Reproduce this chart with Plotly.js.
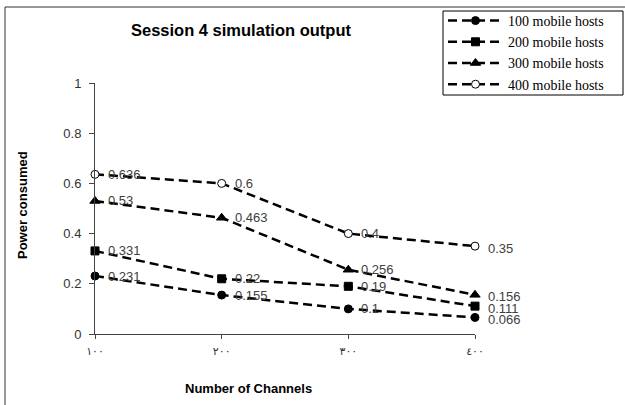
<!DOCTYPE html>
<html>
<head>
<meta charset="utf-8">
<script src="https://cdn.plot.ly/plotly-3.0.1.min.js"></script>
<style>
  html, body { margin: 0; padding: 0; background: #fff; }
  #chart { width: 625px; height: 405px; }
</style>
</head>
<body>
<div id="chart"></div>
<script>
// Number of channels (category axis, Arabic-Indic tick labels)
const channels = ['100', '200', '300', '400'];
const channelLabels = ['١٠٠', '٢٠٠', '٣٠٠', '٤٠٠'];

// Power consumed per host count
const seriesNames = ['100 mobile hosts', '200 mobile hosts', '300 mobile hosts', '400 mobile hosts'];
const hosts100 = [0.231, 0.155, 0.1, 0.066];
const hosts200 = [0.331, 0.22, 0.19, 0.111];
const hosts300 = [0.53, 0.463, 0.256, 0.156];
const hosts400 = [0.636, 0.6, 0.4, 0.35];

const seriesValues = [hosts100, hosts200, hosts300, hosts400];
const markerStyles = [
  { symbol: 'circle', size: 8, color: '#000', line: { color: '#000', width: 1 } },
  { symbol: 'square', size: 8, color: '#000', line: { color: '#000', width: 1 } },
  { symbol: 'triangle-up', size: 9, color: '#000', line: { color: '#000', width: 1 } },
  { symbol: 'circle', size: 8, color: '#fff', line: { color: '#000', width: 1 } }
];

const W = 625, H = 405;
const M = { l: 95, r: 150, t: 83, b: 71 };
const PW = W - M.l - M.r, PH = H - M.t - M.b;
const px = x => (x - M.l) / PW;          // pixel -> paper x
const py = y => 1 - (y - M.t) / PH;       // pixel -> paper y

const traces = seriesValues.map((vals, i) => ({
  type: 'scatter',
  mode: 'lines+markers',
  name: seriesNames[i],
  x: channels,
  y: vals,
  line: { color: '#000', width: 2.5, dash: '9px,5px' },
  marker: markerStyles[i],
  cliponaxis: false
}));

const sans = 'Arial, Liberation Sans, sans-serif';

// Value labels beside each point (category axis: x given as category index)
const annotations = [];
seriesValues.forEach(vals => {
  vals.forEach((v, j) => {
    annotations.push({
      x: j, y: v, xref: 'x', yref: 'y',
      text: String(v), showarrow: false,
      xanchor: 'left', yanchor: 'middle',
      xshift: 12, yshift: j === channels.length - 1 ? -2 : 0,
      borderpad: 0,
      font: { family: sans, size: 13, color: '#404040' }
    });
  });
});

// Axis titles
annotations.push({
  xref: 'paper', yref: 'paper', x: px(248), y: py(388),
  text: 'Number of Channels', showarrow: false,
  xanchor: 'center', yanchor: 'middle',
  font: { family: sans, size: 13, color: '#000', weight: 'bold' }
});
annotations.push({
  xref: 'paper', yref: 'paper', x: px(22), y: py(205),
  text: 'Power consumed', showarrow: false, textangle: -90,
  xanchor: 'center', yanchor: 'middle',
  font: { family: sans, size: 13, color: '#000', weight: 'bold' }
});

// Outer chart frame (left and top edges) and the legend box
const shapes = [
  { type: 'line', xref: 'paper', yref: 'paper', x0: px(5), y0: py(7), x1: px(5), y1: py(410), line: { color: '#333', width: 1 } },
  { type: 'line', xref: 'paper', yref: 'paper', x0: px(5), y0: py(7), x1: px(630), y1: py(7), line: { color: '#333', width: 1 } },
  { type: 'rect', xref: 'paper', yref: 'paper', x0: px(443), y0: py(11), x1: px(623), y1: py(95),
    fillcolor: '#fff', line: { color: '#000', width: 1 }, layer: 'above' }
];

const layout = {
  width: W, height: H,
  margin: Object.assign({ autoexpand: false }, M),
  paper_bgcolor: '#fff', plot_bgcolor: '#fff',
  showlegend: true,
  title: {
    text: 'Session 4 simulation output',
    x: 241 / W, xanchor: 'center', y: 1 - 30 / H, yanchor: 'middle',
    font: { family: sans, size: 16.5, color: '#000', weight: 'bold' }
  },
  xaxis: {
    type: 'category',
    range: [0, channels.length - 1],
    tickvals: channels, ticktext: channelLabels,
    showgrid: false, zeroline: false,
    showline: true, linecolor: '#444', linewidth: 1,
    ticks: 'outside', ticklen: 4, tickcolor: '#444',
    ticklabelstandoff: 3,
    tickfont: { family: 'DejaVu Sans, sans-serif', size: 11, color: '#333' },
    fixedrange: true
  },
  yaxis: {
    range: [0, 1], dtick: 0.2,
    showgrid: false, zeroline: false,
    showline: true, linecolor: '#444', linewidth: 1,
    ticks: 'outside', ticklen: 5, tickcolor: '#444',
    ticklabelstandoff: 5,
    tickfont: { family: sans, size: 13, color: '#333' },
    fixedrange: true
  },
  legend: {
    x: px(443), y: py(5), xanchor: 'left', yanchor: 'top',
    bgcolor: 'rgba(0,0,0,0)', borderwidth: 0,
    font: { family: 'Times New Roman, Liberation Serif, serif', size: 14, color: '#000' },
    itemwidth: 55,
    tracegroupgap: 0
  },
  annotations: annotations,
  shapes: shapes
};

Plotly.newPlot('chart', traces, layout, { displayModeBar: false, staticPlot: true });
</script>
</body>
</html>
